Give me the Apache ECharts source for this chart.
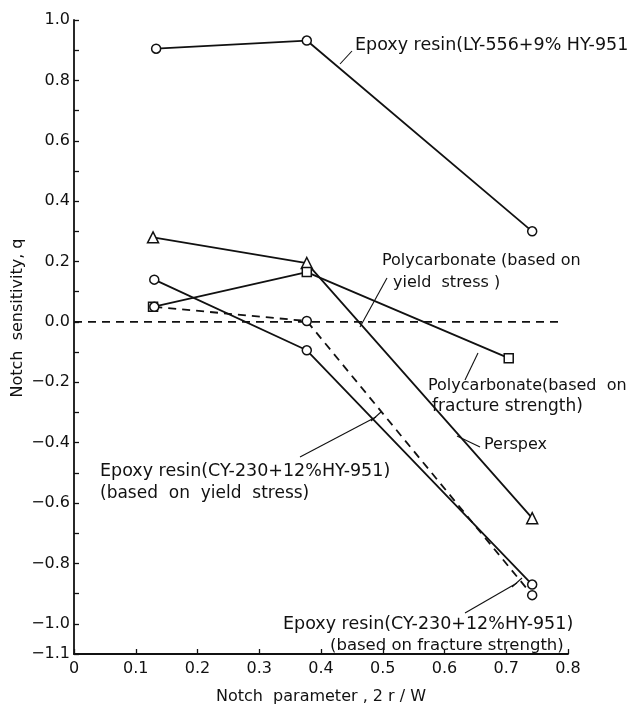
<!DOCTYPE html>
<html><head><meta charset="utf-8">
<script src="https://cdn.jsdelivr.net/npm/echarts@6/dist/echarts.min.js"></script>
<style>html,body{margin:0;padding:0;background:#fff}#c{width:632px;height:710px}</style>
</head><body><div id="c"></div>
<script>
// ---- data ----
const xTicks = [0, 0.1, 0.2, 0.3, 0.4, 0.5, 0.6, 0.7, 0.8];
const yTickLabels = [-1.1, -1.0, -0.8, -0.6, -0.4, -0.2, 0.0, 0.2, 0.4, 0.6, 0.8, 1.0];
const epoxyLY556_x = [0.133, 0.377, 0.742];
const epoxyLY556_q = [0.905, 0.932, 0.30];
const perspex_x = [0.128, 0.377, 0.742];
const perspex_q = [0.28, 0.195, -0.65];
const pcFracture_x = [0.128, 0.377, 0.704];
const pcFracture_q = [0.05, 0.165, -0.12];
const pcYield_x = [0.0, 0.79];
const pcYield_q = [0.0, 0.0];
const cyYield_x = [0.13, 0.377, 0.742];
const cyYield_q = [0.05, 0.003, -0.905];
const cyFracture_x = [0.13, 0.377, 0.742];
const cyFracture_q = [0.14, -0.094, -0.87];

const zip = (xs, ys) => xs.map((x, i) => [x, ys[i]]);
const FONT = '"DejaVu Sans", sans-serif';
const INK = '#111';

function lineSeries(name, xs, ys, symbol, dashed, size) {
  return {
    name, type: 'line', data: zip(xs, ys), symbol: symbol || 'none',
    symbolSize: size || 9, showSymbol: !!symbol,
    lineStyle: { color: INK, width: 1.8, type: dashed ? [8, 6] : 'solid' },
    itemStyle: { color: '#fff', borderColor: INK, borderWidth: 1.5 },
    emphasis: { disabled: true }, animation: false, z: 3
  };
}

const chart = echarts.init(document.getElementById('c'), null, { renderer: 'canvas' });
const fmtY = v => {
  const r = Math.round(v * 10);
  if (!yTickLabels.some(t => Math.round(t * 10) === r)) return '';
  return (r < 0 ? '\u2212' : '') + (Math.abs(r) / 10).toFixed(1);
};
const option = {
  backgroundColor: '#fff',
  animation: false,
  grid: { left: 74, right: 64, top: 20, bottom: 46 },
  xAxis: {
    type: 'value', min: 0, max: 0.8, interval: 0.1,
    name: 'Notch  parameter , 2 r / W', nameLocation: 'middle', nameGap: 35,
    nameTextStyle: { fontFamily: FONT, fontSize: 16, color: INK },
    axisLine: { onZero: false, lineStyle: { color: INK, width: 1.8 } },
    axisTick: { inside: true, length: 5, lineStyle: { color: INK, width: 1.3 } },
    axisLabel: { fontFamily: FONT, fontSize: 16, color: INK, margin: 7,
      formatter: v => { const r = Math.round(v * 10); return r === 0 ? '0' : (r / 10).toFixed(1); } },
    splitLine: { show: false }
  },
  yAxis: {
    type: 'value', min: -1.1, max: 1.0, interval: 0.1,
    axisLine: { onZero: false, lineStyle: { color: INK, width: 1.8 } },
    axisTick: { inside: true, length: 5, lineStyle: { color: INK, width: 1.3 } },
    axisLabel: { fontFamily: FONT, fontSize: 16, color: INK, margin: 4, formatter: fmtY, showMinLabel: true, showMaxLabel: true },
    splitLine: { show: false }
  },
  series: [
    lineSeries('pcYield', pcYield_x, pcYield_q, null, true),
    lineSeries('LY556', epoxyLY556_x, epoxyLY556_q, 'circle'),
    lineSeries('Perspex', perspex_x, perspex_q, 'triangle', false, 11),
    lineSeries('pcFracture', pcFracture_x, pcFracture_q, 'rect', false, 9),
    lineSeries('cyYield', cyYield_x, cyYield_q, 'circle', true),
    lineSeries('cyFracture', cyFracture_x, cyFracture_q, 'circle')
  ]
};

function txt(x, y, s, fs) {
  fs = fs || 16;
  return { type: 'text', left: x, top: y - Math.round(fs * 0.6), z: 10, silent: true,
    style: { text: s, font: fs + 'px ' + FONT, fill: INK } };
}
function seg(x1, y1, x2, y2) {
  return { type: 'line', z: 10, silent: true, shape: { x1, y1, x2, y2 },
    style: { stroke: INK, lineWidth: 1.1 } };
}
option.graphic = [
  { type: 'text', z: 10, silent: true, x: 18, y: 318, rotation: Math.PI / 2,
    style: { text: 'Notch  sensitivity, q', font: '16px ' + FONT, fill: INK, align: 'center', verticalAlign: 'middle' } },
  txt(355, 47, 'Epoxy resin(LY-556+9% HY-951', 17.5), seg(340, 64, 352, 51),
  txt(382, 263, 'Polycarbonate (based on'), txt(393, 285, 'yield  stress )'), seg(387, 278, 360, 327),
  txt(428, 388, 'Polycarbonate(based  on'), txt(432, 408, 'fracture strength)', 17), seg(478, 353, 465, 380),
  txt(484, 447, 'Perspex'), seg(457, 436, 480, 447),
  txt(100, 473, 'Epoxy resin(CY-230+12%HY-951)', 17.5), txt(100, 495, '(based  on  yield  stress)', 17),
  seg(300, 457, 376, 417), seg(371, 421, 381, 412),
  txt(283, 626, 'Epoxy resin(CY-230+12%HY-951)', 17.5), txt(330, 647, '(based on fracture strength)', 16.5),
  seg(465, 613, 517, 583), seg(512, 587, 522, 578)
];
chart.setOption(option);
</script></body></html>
